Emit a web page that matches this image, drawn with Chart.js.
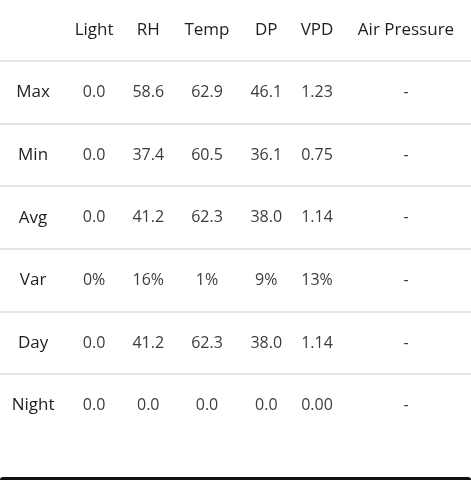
<!DOCTYPE html>
<html><head><meta charset="utf-8">
<script src="https://cdn.jsdelivr.net/npm/chart.js@4"></script>
<style>html,body{margin:0;padding:0;background:#fff}#wrap{width:471px;height:480px}</style>
</head><body><div id="wrap"><canvas id="c"></canvas></div>
<script>
const columns = ['Light','RH','Temp','DP','VPD','Air Pressure'];
const columnPos = [1.07,2.02,3.05,4.09,4.98,6.54];
const rows = ['Max','Min','Avg','Var','Day','Night'];
const light = ['0.0','0.0','0.0','0%','0.0','0.0'];
const rh = ['58.6','37.4','41.2','16%','41.2','0.0'];
const temp = ['62.9','60.5','62.3','1%','62.3','0.0'];
const dp = ['46.1','36.1','38.0','9%','38.0','0.0'];
const vpd = ['1.23','0.75','1.14','13%','1.14','0.00'];
const airPressure = ['-','-','-','-','-','-'];
const seriesCols = [light, rh, temp, dp, vpd, airPressure];

const tablePlugin = {
  id:'table',
  afterDraw(chart){
    const ctx = chart.ctx, x = chart.scales.x, y = chart.scales.y;
    ctx.save();
    ctx.textAlign='center'; ctx.textBaseline='middle';
    ctx.strokeStyle='#e4e4e4'; ctx.lineWidth=2;
    for(let i=0;i<rows.length;i++){
      const yy = Math.round(y.getPixelForValue(i+0.5));
      ctx.beginPath(); ctx.moveTo(0,yy); ctx.lineTo(chart.width,yy); ctx.stroke();
    }
    ctx.font='17px "Open Sans"';
    ctx.fillStyle='#1e1e1e';
    columns.forEach((c,j)=>ctx.fillText(c, x.getPixelForValue(columnPos[j]), y.getPixelForValue(0)));
    rows.forEach((r,i)=>ctx.fillText(r, x.getPixelForValue(0), y.getPixelForValue(i+1)));
    ctx.font='16px "Open Sans"';
    ctx.fillStyle='#3c3c3c';
    seriesCols.forEach((col,j)=>col.forEach((v,i)=>ctx.fillText(v, x.getPixelForValue(columnPos[j]), y.getPixelForValue(i+1))));
    ctx.fillStyle='#111';
    ctx.beginPath();
    ctx.roundRect(0, chart.height-3, chart.width, 6, 3);
    ctx.fill();
    ctx.restore();
  }
};

new Chart(document.getElementById('c'), {
  type:'scatter',
  data:{datasets:[{data:[]}]},
  options:{
    responsive:true, maintainAspectRatio:false, animation:false,
    layout:{padding:0},
    plugins:{legend:{display:false},tooltip:{enabled:false}},
    scales:{
      x:{type:'linear',display:false,min:-0.58,max:7.68},
      y:{type:'linear',display:false,reverse:true,min:-0.48,max:7.19}
    }
  },
  plugins:[tablePlugin]
});
</script></body></html>
